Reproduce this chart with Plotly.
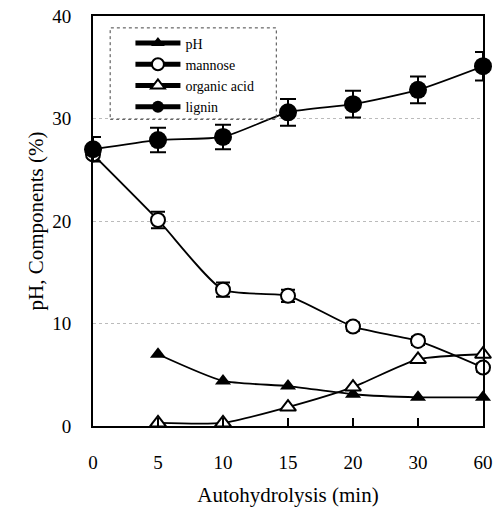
import plotly.graph_objects as go

times = ["0", "5", "10", "15", "20", "30", "60"]
ph_x = ["5", "10", "15", "20", "30", "60"]
ph = [7.0, 4.4, 3.9, 3.1, 2.8, 2.8]
mannose = [26.5, 20.1, 13.3, 12.7, 9.7, 8.3, 5.7]
mannose_err = [0.6, 0.8, 0.7, 0.6, 0.4, 0.4, 0.4]
acid_x = ["5", "10", "15", "20", "30", "60"]
acid = [0.3, 0.3, 1.85, 3.8, 6.5, 7.0]
lignin = [27.0, 27.9, 28.2, 30.6, 31.4, 32.8, 35.1]
lignin_err = [1.2, 1.2, 1.2, 1.3, 1.3, 1.3, 1.4]

FONT = "Liberation Serif, Times New Roman, serif"

fig = go.Figure()
line = dict(color="black", width=1.8, shape="spline", smoothing=0.6)
fig.add_trace(go.Scatter(x=ph_x, y=ph, name="pH", mode="lines+markers",
                         line=line, cliponaxis=False,
                         marker=dict(symbol="triangle-up", size=14, color="black")))
fig.add_trace(go.Scatter(x=times, y=mannose, name="mannose", mode="lines+markers",
                         line=line, cliponaxis=False,
                         error_y=dict(type="data", array=mannose_err, color="black", thickness=2, width=7),
                         marker=dict(symbol="circle", size=14, color="white",
                                     line=dict(color="black", width=2))))
fig.add_trace(go.Scatter(x=acid_x, y=acid, name="organic acid", mode="lines+markers",
                         line=line, cliponaxis=False,
                         marker=dict(symbol="triangle-up", size=14, color="white",
                                     line=dict(color="black", width=2))))
fig.add_trace(go.Scatter(x=times, y=lignin, name="lignin", mode="lines+markers",
                         line=line, cliponaxis=False,
                         error_y=dict(type="data", array=lignin_err, color="black", thickness=2, width=8),
                         marker=dict(symbol="circle", size=18, color="black")))

fig.add_shape(type="rect", xref="paper", yref="paper", x0=0.044, x1=0.47, y0=0.748, y1=0.971,
              line=dict(color="#444", width=1, dash="dot"), fillcolor="rgba(0,0,0,0)")

fig.update_layout(
    width=501, height=521,
    margin=dict(l=93, r=18, t=16, b=95),
    paper_bgcolor="white", plot_bgcolor="white",
    font=dict(family=FONT, color="black", size=19),
    showlegend=True,
    legend=dict(x=0.096, y=0.972, xanchor="left", yanchor="top",
                bgcolor="rgba(0,0,0,0)", borderwidth=0,
                font=dict(family=FONT, size=14), itemwidth=45,
                tracegroupgap=0, itemsizing="constant"),
)
fig.update_xaxes(type="category", categoryorder="array", categoryarray=times,
                 range=[0, 6], showline=True, linecolor="black", linewidth=2, mirror=True,
                 ticks="inside", ticklen=8, tickwidth=2, tickcolor="black",
                 showgrid=False, zeroline=False, ticklabelstandoff=18, automargin=False,
                 title=dict(text="Autohydrolysis (min)", font=dict(size=21), standoff=16))
fig.update_yaxes(range=[0, 40], tickvals=[0, 10, 20, 30, 40],
                 showline=True, linecolor="black", linewidth=2, mirror=True,
                 ticks="", showgrid=True, gridcolor="#bbb", griddash="dot", gridwidth=1,
                 zeroline=False, ticklabelstandoff=16, automargin=False,
                 title=dict(text="pH, Components (%)", font=dict(size=21), standoff=3))

fig.write_html("out.html", config={"displayModeBar": False},
               post_script="document.body.style.margin='0px';")
